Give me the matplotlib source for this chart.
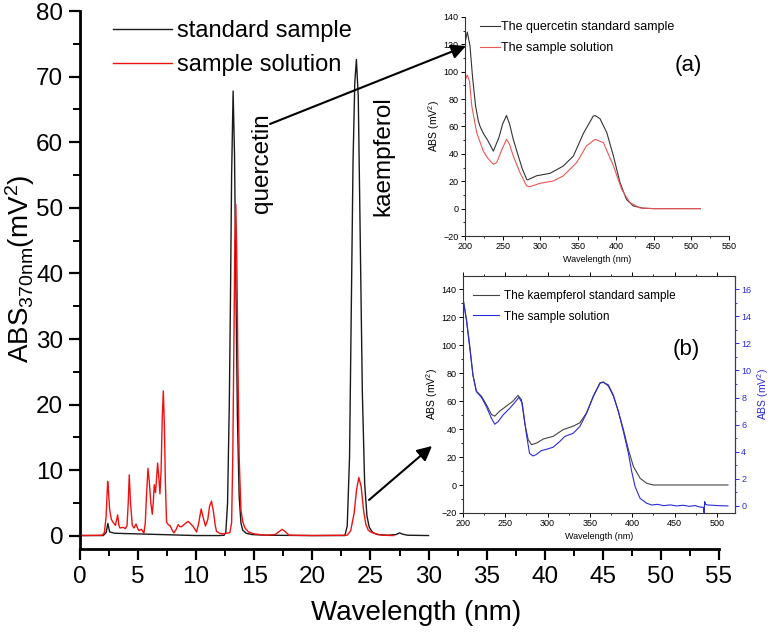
import matplotlib
matplotlib.use("Agg")
import matplotlib.pyplot as plt
from matplotlib.ticker import MultipleLocator

plt.rcParams['font.family'] = ['Liberation Sans', 'DejaVu Sans']
plt.rcParams['mathtext.fontset'] = 'custom'
plt.rcParams['mathtext.rm'] = 'Liberation Sans'
plt.rcParams['mathtext.it'] = 'Liberation Sans'

# ---------------- main chromatogram data ----------------
std_x = [0, 2.0, 2.25, 2.4, 2.55, 3.0, 5.0, 8.0, 10.0, 12.0, 12.4, 12.55, 12.7, 12.85, 12.95,
         13.05, 13.18, 13.3, 13.42, 13.55, 13.7, 13.85, 14.0, 14.3, 14.8, 16.0, 20.0, 22.8,
         23.0, 23.2, 23.36, 23.5, 23.65, 23.79, 23.95, 24.1, 24.3, 24.5, 24.7, 24.9, 25.2,
         25.6, 26.5, 27.2, 27.5, 27.8, 28.2, 30.0]
std_y = [0.05, 0.05, 0.5, 1.9, 0.6, 0.4, 0.3, 0.15, 0.05, 0.05, 0.1, 0.5, 5, 20, 36,
         55, 67.8, 58, 38, 18, 6, 2.0, 0.9, 0.4, 0.2, 0.1, 0.05, 0.05,
         1.5, 12, 36, 57, 69, 72.6, 67, 48, 22, 8, 3, 1.3, 0.5,
         0.2, 0.1, 0.2, 0.45, 0.25, 0.1, 0.05]

smp_x = [0, 1.9, 2.1, 2.25, 2.38, 2.45, 2.55, 2.7, 2.87, 3.05, 3.24, 3.35, 3.44, 3.7, 3.9,
         4.05, 4.15, 4.24, 4.35, 4.5, 4.65, 4.82, 4.95, 5.07, 5.3, 5.5, 5.62, 5.72, 5.85,
         5.95, 6.1, 6.22, 6.32, 6.39, 6.5, 6.6, 6.68, 6.78, 6.88, 6.98, 7.08, 7.17, 7.26,
         7.35, 7.45, 7.6, 7.74, 7.9, 8.08, 8.25, 8.45, 8.6, 8.74, 9.0, 9.31, 9.55, 9.75,
         10.03, 10.2, 10.43, 10.6, 10.8, 11.0, 11.15, 11.32, 11.5, 11.65, 11.75, 12.0, 12.3,
         12.6, 12.9, 13.05, 13.15, 13.25, 13.33, 13.41, 13.5, 13.58, 13.7, 13.85, 14.0, 14.2,
         14.5, 15.0, 16.0, 16.8, 17.1, 17.4, 17.7, 18.0, 20.0, 23.0, 23.3, 23.6, 23.8, 24.0,
         24.2, 24.4, 24.6, 24.8, 25.0, 25.5, 26.0, 27.0]
smp_y = [0.05, 0.1, 0.5, 3, 8.3, 7.0, 4, 2.5, 2.0, 1.6, 3.2, 1.6, 1.2, 1.3, 1.1,
         1.6, 5, 9.3, 5, 1.6, 1.2, 1.8, 1.2, 0.8, 1.0, 0.4, 2, 6, 10.3,
         8.5, 5, 3.3, 5.5, 7.8, 6.6, 9, 11.1, 9, 6.4, 10, 18, 22.1, 17,
         8, 2.1, 1.7, 1.6, 1.0, 0.45, 0.9, 1.7, 1.4, 1.4, 1.8, 2.2, 1.8, 1.4,
         0.6, 1.8, 4.1, 2.8, 1.5, 2.5, 4.5, 5.3, 3.5, 1.5, 0.7, 0.4, 0.3,
         0.4, 0.5, 2, 12, 30, 45, 50.5, 42, 28, 12, 4, 2.2, 1.2,
         0.6, 0.3, 0.1, 0.2, 0.6, 1.0, 0.6, 0.1, 0.05, 0.1, 0.8, 3.5, 7, 8.9,
         7.5, 4, 1.8, 0.9, 0.6, 0.3, 0.1, 0.05]

# ---------------- inset (a): quercetin UV spectra ----------------
qa_x = [200, 203, 206.6, 210, 214, 217.7, 220, 224.3, 230, 237.6, 245, 250, 255, 259, 264,
        270.7, 276, 281.8, 283, 295, 312.7, 330, 343.7, 357, 370, 372.4, 379, 388, 396.8,
        405.5, 414, 423, 436, 450, 480, 512]
qa_y = [121, 129, 119, 96, 75, 64, 60, 55, 50, 42, 52, 62, 68, 62, 50.6,
        38.4, 29, 21.4, 21, 24, 25.8, 31, 38.4, 55, 67.6, 68, 65.7, 55.5, 38.4,
        19, 6.8, 2, 0.3, 0, 0, 0]
qs_x = [200, 203, 206, 209, 215.5, 224.3, 230, 237.6, 242, 248, 255, 259, 264, 273,
        281.8, 286, 299.5, 317, 330, 348, 361, 372.4, 383.5, 396.8, 407.7, 418.7, 432,
        450, 480, 512]
qs_y = [93.7, 97.6, 93, 75, 55.5, 42, 37, 32.4, 33.6, 42, 50.6, 47, 38.4, 26.2,
        16.5, 16, 18.5, 20.2, 23.8, 33.6, 45.8, 50.6, 48.2, 31.2, 14.1, 4.4, 0.5,
        0, 0, 0]

# ---------------- inset (b): kaempferol UV spectra ----------------
ka_x = [200, 204, 208, 211.8, 215.8, 221.7, 227.6, 233.6, 237.5, 243.4, 251.3, 259.2, 265,
        269, 273, 277, 281, 287, 295, 306.6, 318.4, 330, 338, 346, 353.9, 361.8, 365.7,
        371.7, 377.6, 383.5, 389.5, 395.4, 401.3, 409.2, 417, 425, 460, 513]
ka_y = [133, 118.7, 99.5, 78, 67, 63.5, 57.5, 50.4, 49.2, 52.8, 56.4, 60, 64,
        61, 44, 32.4, 28.8, 30, 32.9, 34.8, 39.6, 42, 44.4, 51.6, 63.5, 73, 73.6,
        70.7, 63.5, 52.8, 39.6, 25.2, 13.2, 4.8, 1.2, 0, 0, 0]
ks_x = [200, 204, 208, 211.8, 215.8, 221.7, 227.6, 233.6, 237.5, 241.4, 247.4, 255.3, 263,
        266, 270, 274.7, 278.6, 282.6, 286.5, 292.4, 298.4, 306.3, 314.2, 320, 330, 338,
        346, 353.9, 361.8, 365.7, 371.7, 377.6, 383.5, 389.5, 395.4, 399.3, 403.3, 409.2,
        417, 423, 430, 437, 445, 452, 460, 467, 474, 480, 484, 484.8, 485.5, 486.5, 489,
        495, 503, 513]
ks_y = [15.33, 13.73, 11.64, 9.67, 8.44, 8.02, 7.33, 6.47, 6.03, 6.22, 6.72, 7.21, 7.77,
        8.02, 7.58, 5.36, 3.88, 3.69, 3.79, 4.08, 4.18, 4.33, 4.75, 5.12, 5.36, 5.86,
        6.84, 8.07, 9.05, 9.13, 8.93, 8.19, 6.96, 5.48, 3.88, 2.53, 1.42, 0.56,
        0.2, 0.07, 0.12, 0.02, 0.08, 0.0, 0.05, -0.03, 0.03, -0.08, -0.1, -0.5, 0.32, 0.12, 0.07,
        0.05, 0.02, 0.0]

BLACK = '#1a1a1a'
RED = '#ee1111'

fig = plt.figure(figsize=(7.7, 6.32), dpi=100)

# ---------------- main axes ----------------
ax = fig.add_axes([80/770, 83/632, 639/770, 538/632])
ax.plot(std_x, std_y, color=BLACK, lw=1.0, label='standard sample')
ax.plot(smp_x, smp_y, color=RED, lw=1.0, label='sample solution')
ax.set_xlim(0, 55)
ax.set_ylim(-2, 80)
for s in ['top', 'right']:
    ax.spines[s].set_visible(False)
for s in ['left', 'bottom']:
    ax.spines[s].set_linewidth(2.0)
ax.xaxis.set_major_locator(MultipleLocator(5))
ax.xaxis.set_minor_locator(MultipleLocator(2.5))
ax.yaxis.set_major_locator(MultipleLocator(10))
ax.yaxis.set_minor_locator(MultipleLocator(5))
ax.tick_params(which='major', direction='out', length=8, width=1.6, labelsize=17.5, pad=4)
ax.tick_params(which='minor', direction='out', length=5, width=1.4)
ax.set_xlabel('Wavelength (nm)', fontsize=20, labelpad=7)
ax.set_ylabel('ABS$_{370nm}$(mV$^2$)', fontsize=20, labelpad=0)
ax.xaxis.set_label_coords(0.526, -0.095)
ax.yaxis.set_label_coords(-0.068, 0.52)
ax.legend(loc='upper left', bbox_to_anchor=(0.052, 0.983), frameon=False, fontsize=17,
          handlelength=2.5, handletextpad=0.22, labelspacing=0.5, borderpad=0,
          borderaxespad=0)
ax.text((262 - 80) / 11.63, (537 - 164) / 6.57, 'quercetin', rotation=90,
        ha='center', va='center', fontsize=17.5)
ax.text((384 - 80) / 11.63, (537 - 157) / 6.57, 'kaempferol', rotation=90,
        ha='center', va='center', fontsize=17.5)

# arrows (figure pixel coordinates)
ax.annotate('', xy=(466, 632 - 46), xytext=(270, 632 - 124), xycoords='figure pixels',
            textcoords='figure pixels',
            arrowprops=dict(arrowstyle='-|>', color='black', lw=1.5, mutation_scale=22,
                            shrinkA=0, shrinkB=0))
ax.annotate('', xy=(432, 632 - 446), xytext=(369, 632 - 500), xycoords='figure pixels',
            textcoords='figure pixels',
            arrowprops=dict(arrowstyle='-|>', color='black', lw=1.5, mutation_scale=22,
                            shrinkA=0, shrinkB=0))

# ---------------- inset (a) ----------------
axa = fig.add_axes([465/770, (632-236)/632, 264/770, 219/632])
axa.patch.set_alpha(0)
axa.plot(qa_x, qa_y, color='#333333', lw=0.8, label='The quercetin standard sample')
axa.plot(qs_x, qs_y, color='#ee5555', lw=0.8, label='The sample solution')
axa.set_xlim(200, 550)
axa.set_ylim(-20, 140)
for s in ['top', 'right']:
    axa.spines[s].set_visible(False)
for s in ['left', 'bottom']:
    axa.spines[s].set_linewidth(0.8)
    axa.spines[s].set_color('#333333')
axa.xaxis.set_major_locator(MultipleLocator(50))
axa.xaxis.set_minor_locator(MultipleLocator(25))
axa.yaxis.set_major_locator(MultipleLocator(20))
axa.yaxis.set_minor_locator(MultipleLocator(10))
axa.tick_params(which='major', direction='out', length=3, width=0.7, labelsize=6.5, pad=1.5)
axa.tick_params(which='minor', direction='out', length=1.5, width=0.6)
axa.set_xlabel('Wavelength (nm)', fontsize=6.5, labelpad=3)
axa.set_ylabel('ABS (mV$^2$)', fontsize=7.5, labelpad=1)
axa.legend(loc='upper left', bbox_to_anchor=(0.057, 0.982), frameon=False, fontsize=9,
           handlelength=1.6, handletextpad=0.1, labelspacing=0.76, borderpad=0,
           borderaxespad=0)
axa.text(0.845, 0.78, '(a)', transform=axa.transAxes, fontsize=16, ha='center', va='center')

# ---------------- inset (b) ----------------
axb = fig.add_axes([463/770, (632-513)/632, 272/770, 237/632])
axb.patch.set_alpha(0)
lb1, = axb.plot(ka_x, ka_y, color='#444444', lw=0.8, label='The kaempferol standard sample')
axb.set_xlim(200, 521.3)
axb.set_ylim(-20, 149.3)
axb.xaxis.set_major_locator(MultipleLocator(50))
axb.xaxis.set_minor_locator(MultipleLocator(25))
axb.yaxis.set_major_locator(MultipleLocator(20))
axb.yaxis.set_minor_locator(MultipleLocator(10))
axb.tick_params(which='major', direction='out', length=3, width=0.7, labelsize=6.5, pad=1.5)
axb.tick_params(which='minor', direction='out', length=1.5, width=0.6)
axb.tick_params(axis='x', which='both', top=True)
for s in axb.spines.values():
    s.set_linewidth(0.8)
    s.set_color('#333333')
axb.set_xlabel('Wavelength (nm)', fontsize=6.5, labelpad=3)
axb.set_ylabel('ABS (mV$^2$)', fontsize=7.5, labelpad=1)

axr = axb.twinx()
BLUE = '#2b2bd6'
lb2, = axr.plot(ks_x, ks_y, color=BLUE, lw=0.8, label='The sample solution')
axr.set_ylim(-0.52, 16.97)
axr.yaxis.set_major_locator(MultipleLocator(2))
axr.yaxis.set_minor_locator(MultipleLocator(1))
axr.tick_params(which='major', direction='out', length=3, width=0.7, labelsize=6.5, pad=1.5,
                colors=BLUE)
axr.tick_params(which='minor', direction='out', length=1.5, width=0.6, colors=BLUE)
axr.spines['right'].set_color(BLUE)
axr.spines['right'].set_linewidth(0.8)
for s in ['top', 'left', 'bottom']:
    axr.spines[s].set_visible(False)
axr.set_ylabel('ABS (mV$^2$)', fontsize=7.5, color=BLUE, labelpad=3)
axr.legend(handles=[lb1, lb2], loc='upper left', bbox_to_anchor=(0.037, 0.942),
           frameon=False, fontsize=8.5, handlelength=2.2, handletextpad=0.4,
           labelspacing=0.75, borderpad=0, borderaxespad=0)
axr.text(0.82, 0.69, '(b)', transform=axb.transAxes, fontsize=16, ha='center', va='center')

fig.savefig('out.png', dpi=100)
